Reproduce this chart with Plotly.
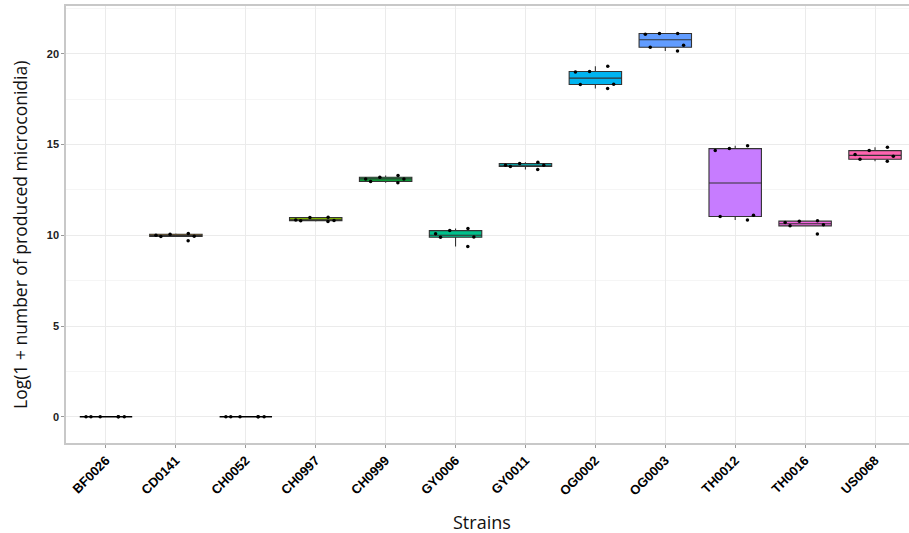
import plotly.graph_objects as go

strains = ["BF0026", "CD0141", "CH0052", "CH0997", "CH0999", "GY0006",
           "GY0011", "OG0002", "OG0003", "TH0012", "TH0016", "US0068"]

BF0026 = [0, 0, 0, 0, 0, 0]
CD0141 = [9.70, 9.93, 9.95, 10.00, 10.06, 10.10]
CH0052 = [0, 0, 0, 0, 0, 0]
CH0997 = [10.76, 10.80, 10.82, 10.84, 10.98, 11.00]
CH0999 = [12.90, 12.97, 13.11, 13.11, 13.20, 13.30]
GY0006 = [9.38, 9.89, 9.91, 10.09, 10.26, 10.37]
GY0011 = [13.63, 13.79, 13.86, 13.86, 13.96, 14.03]
OG0002 = [18.09, 18.31, 18.33, 19.00, 19.03, 19.32]
OG0003 = [20.16, 20.37, 20.48, 21.08, 21.12, 21.13]
TH0012 = [10.84, 11.04, 11.10, 14.67, 14.78, 14.93]
TH0016 = [10.07, 10.52, 10.58, 10.70, 10.78, 10.80]
US0068 = [14.08, 14.19, 14.36, 14.45, 14.67, 14.85]

values = [BF0026, CD0141, CH0052, CH0997, CH0999, GY0006,
          GY0011, OG0002, OG0003, TH0012, TH0016, US0068]

colors = ["#F8766D", "#DE8C00", "#B79F00", "#7CAE00", "#00BA38", "#00C08B",
          "#00BFC4", "#00B4F0", "#619CFF", "#C77CFF", "#F564E3", "#FF64B0"]

y_ticks = [0, 5, 10, 15, 20]

fig = go.Figure()
for name, vals, col in zip(strains, values, colors):
    zero = max(vals) == min(vals)
    fig.add_trace(go.Box(
        x=[name] * len(vals), y=vals, name=name,
        fillcolor=col,
        line=dict(color="#000000" if zero else "#333333", width=1.6 if zero else 1.1),
        width=0.75, whiskerwidth=0,
        boxpoints="all", jitter=0.9, pointpos=0,
        marker=dict(color="black", size=3.5),
        quartilemethod="linear",
        showlegend=False,
    ))

fig.update_layout(
    width=909, height=533,
    margin=dict(l=66, r=0, t=6, b=90, autoexpand=False),
    paper_bgcolor="white", plot_bgcolor="white",
    boxmode="overlay",
    font=dict(family="Liberation Sans, Arial", color="black"),
    annotations=[
        dict(text="Log(1 + number of produced microconidia)", xref="paper", yref="paper",
             x=-0.0546, y=0.476, xanchor="center", yanchor="middle", textangle=-90,
             showarrow=False, font=dict(family="Open Sans", size=17.5, color="#111111")),
        dict(text="Strains", xref="paper", yref="paper",
             x=0.4935, y=-0.181, xanchor="center", yanchor="middle",
             showarrow=False, font=dict(family="Open Sans", size=18, color="#111111")),
    ],
)
fig.update_xaxes(
    type="category", categoryorder="array", categoryarray=strains,
    range=[-0.572, 11.486], automargin=False,
    tickangle=-45,
    tickfont=dict(family="Liberation Sans, Arial", size=13, color="black", weight="bold"),
    showgrid=True, gridcolor="#EBEBEB", gridwidth=1,
    ticks="outside", ticklen=3, tickcolor="#999999",
    showline=True, linecolor="#C8C8C8", linewidth=1.5, mirror=True,
    zeroline=False,
)
fig.update_yaxes(
    range=[-1.45, 22.64], automargin=False,
    tickvals=y_ticks, ticktext=[str(v) for v in y_ticks],
    tickfont=dict(family="Liberation Sans, Arial", size=11, color="#222222", weight="bold"),
    showgrid=True, gridcolor="#EBEBEB", gridwidth=1,
    minor=dict(tickvals=[2.5, 7.5, 12.5, 17.5, 22.5], showgrid=True, gridcolor="#F5F5F5", gridwidth=1),
    ticks="outside", ticklen=3, tickcolor="#999999",
    showline=True, linecolor="#C8C8C8", linewidth=1.5, mirror=True,
    zeroline=False,
)

fig.write_html("out.html", config={"displayModeBar": False},
               post_script="document.body.style.margin='0';")
